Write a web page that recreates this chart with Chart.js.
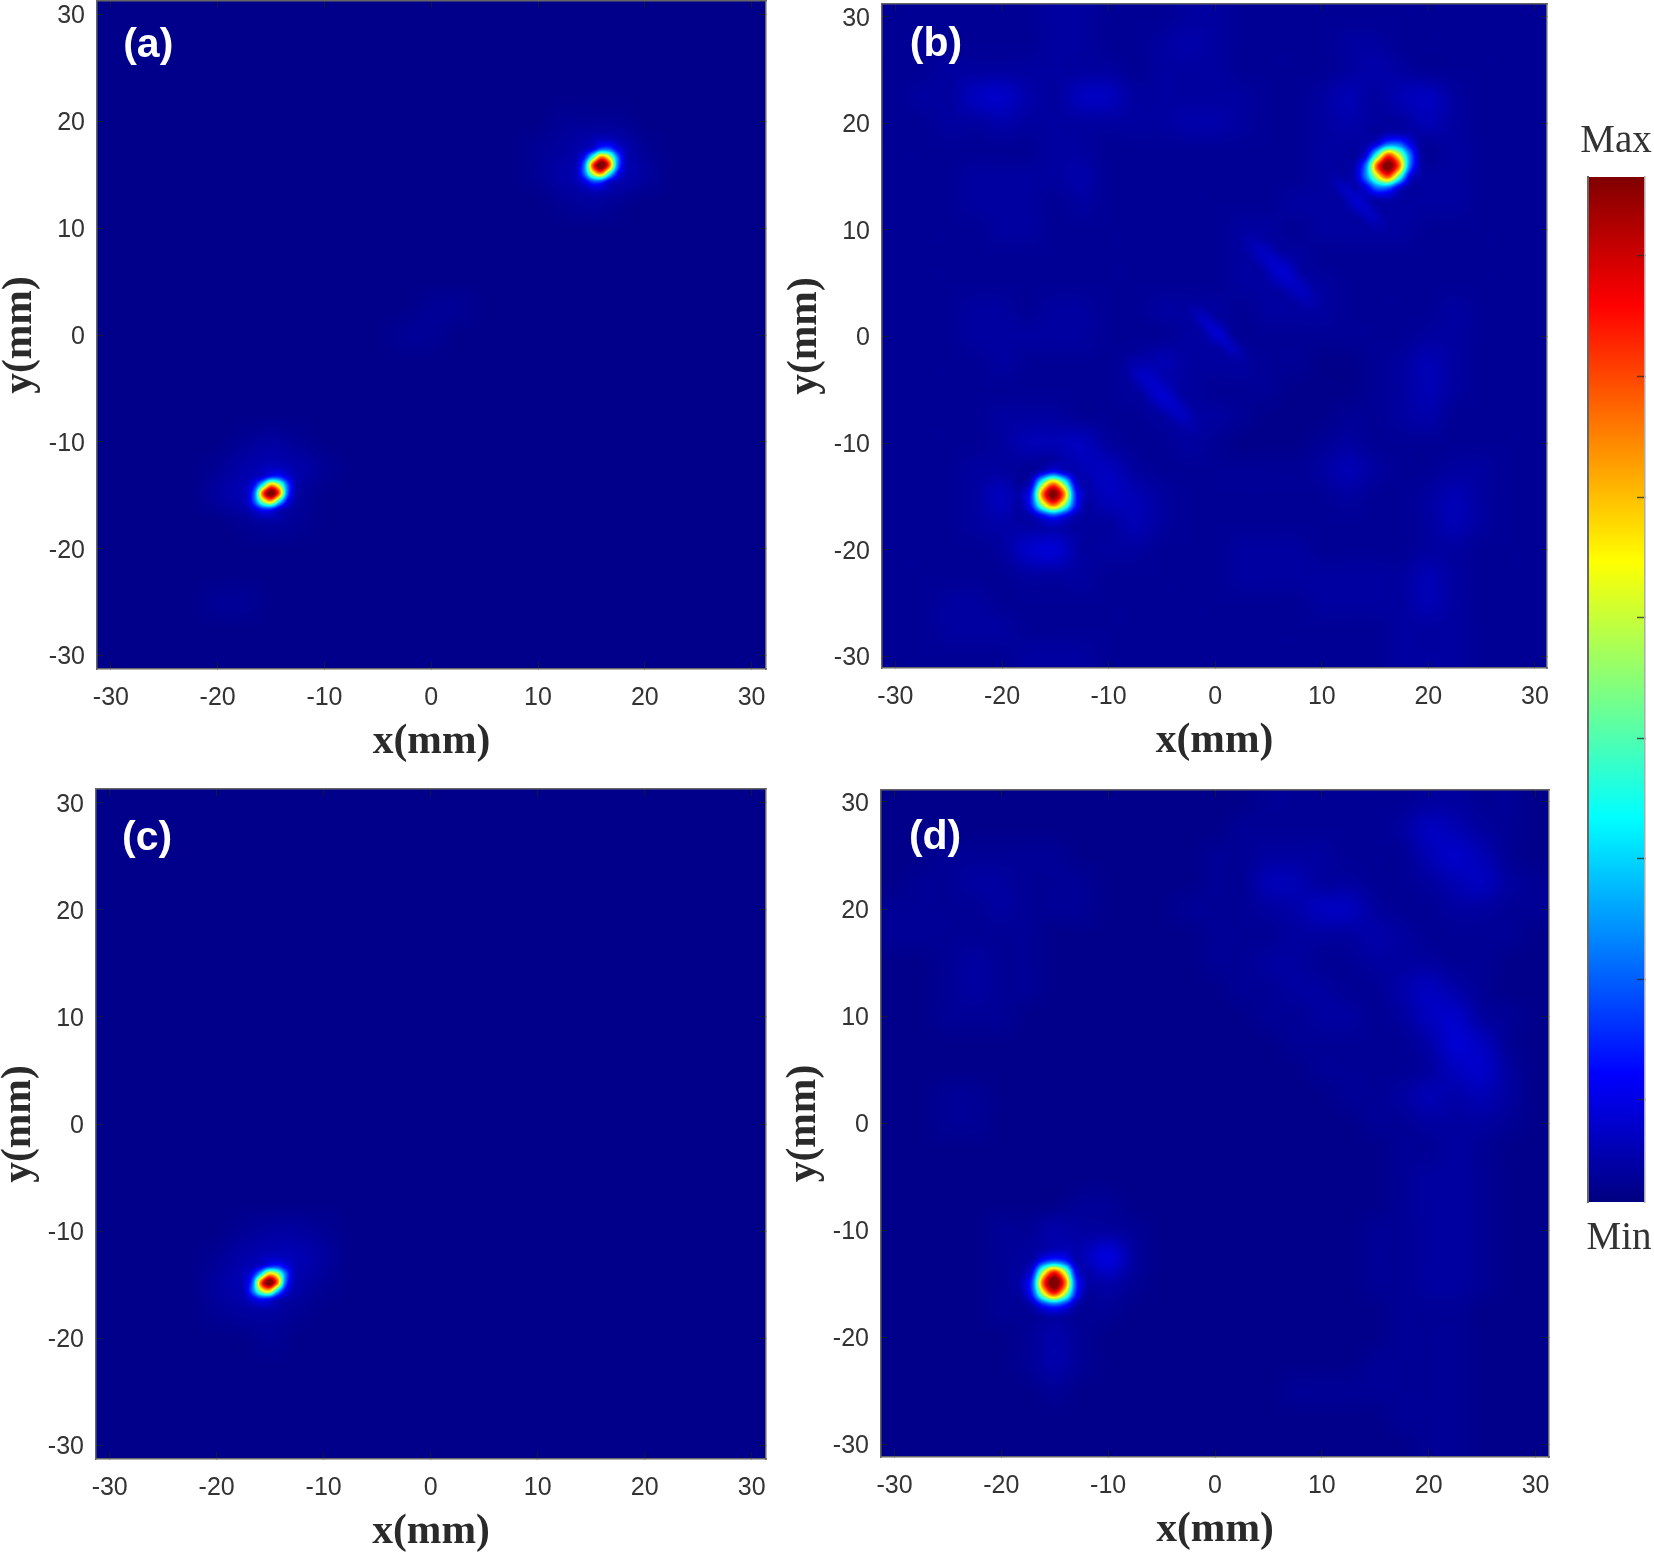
<!DOCTYPE html>
<html>
<head>
<meta charset="utf-8">
<title>Focal spots</title>
<script src="https://cdn.jsdelivr.net/npm/chart.js@4"></script>
<style>
  html, body { margin: 0; padding: 0; background: #fff; }
  body { position: relative; width: 1654px; height: 1553px; overflow: hidden; }
  canvas { position: absolute; display: block; }
</style>
</head>
<body>
<script>
// -----------------------
// Data (values in % of max)
// -----------------------
const tickValues = [-30, -20, -10, 0, 10, 20, 30];
const colorbarTicks = [0.0997, 0.2173, 0.335, 0.4525, 0.57, 0.6877, 0.8051, 0.9232];

const jetStops = [[0, '#000080'], [0.125, '#0000ff'], [0.375, '#00ffff'], [0.625, '#ffff00'], [0.875, '#ff0000'], [1, '#800000']];

// background fields: rows y = 30 .. -30, columns x = -30 .. 30, every 2.5 mm
const fieldA = [
  [1,1,1,1,1,1,1,1,1,1,1,1,1,1,1,1,1,1,1,1,1,1,1,1,1],
  [1,1,1,1,1,1,1,1,1,1,1,1,1,1,1,1,1,1,1,1,1,1,1,1,1],
  [1,1,1,1,1,1,1,1,1,1,1,1,1,1,1,1,1,1,1,1,1,1,1,1,1],
  [1,1,1,1,1,1,1,1,1,1,1,1,1,1,1,1,1,1,1,1,1,1,1,1,1],
  [1,1,1,1,1,1,1,1,1,1,1,1,1,1,1,1,1,2,2,2,1,1,1,1,1],
  [1,1,1,1,1,1,1,1,1,1,1,1,1,1,1,1,2,3,5,5,2,1,1,1,1],
  [1,1,1,1,1,1,1,1,1,1,1,1,1,1,1,1,2,4,5,5,3,1,1,1,1],
  [1,1,1,1,1,1,1,1,1,1,1,1,1,1,1,1,1,2,3,2,1,1,1,1,1],
  [1,1,1,1,1,1,1,1,1,1,1,1,1,1,1,1,1,1,1,1,1,1,1,1,1],
  [1,1,1,1,1,1,1,1,1,1,1,1,1,1,1,1,1,1,1,1,1,1,1,1,1],
  [1,1,1,1,1,1,1,1,1,1,1,1,1,1,1,1,1,1,1,1,1,1,1,1,1],
  [1,1,1,1,1,1,1,1,1,1,1,1,2,2,1,1,1,1,1,1,1,1,1,1,1],
  [1,1,1,1,1,1,1,1,1,1,1,2,2,1,1,1,1,1,1,1,1,1,1,1,1],
  [1,1,1,1,1,1,1,1,1,1,1,1,1,1,1,1,1,1,1,1,1,1,1,1,1],
  [1,1,1,1,1,1,1,1,1,1,1,1,1,1,1,1,1,1,1,1,1,1,1,1,1],
  [1,1,1,1,1,1,1,1,1,1,1,1,1,1,1,1,1,1,1,1,1,1,1,1,1],
  [1,1,1,1,1,2,3,2,1,1,1,1,1,1,1,1,1,1,1,1,1,1,1,1,1],
  [1,1,1,1,2,4,5,4,2,1,1,1,1,1,1,1,1,1,1,1,1,1,1,1,1],
  [1,1,1,1,3,5,5,3,1,1,1,1,1,1,1,1,1,1,1,1,1,1,1,1,1],
  [1,1,1,1,1,2,3,2,1,1,1,1,1,1,1,1,1,1,1,1,1,1,1,1,1],
  [1,1,1,1,1,1,1,1,1,1,1,1,1,1,1,1,1,1,1,1,1,1,1,1,1],
  [1,1,1,1,1,1,1,1,1,1,1,1,1,1,1,1,1,1,1,1,1,1,1,1,1],
  [1,1,1,1,2,2,1,1,1,1,1,1,1,1,1,1,1,1,1,1,1,1,1,1,1],
  [1,1,1,1,1,1,1,1,1,1,1,1,1,1,1,1,1,1,1,1,1,1,1,1,1],
  [1,1,1,1,1,1,1,1,1,1,1,1,1,1,1,1,1,1,1,1,1,1,1,1,1]
];
const fieldB = [
  [2,2,2,2,2,2,3,3,2,2,2,3,3,2,2,2,2,2,2,2,2,2,2,2,2],
  [2,2,2,2,2,2,3,3,2,2,3,4,3,2,2,2,2,3,3,2,2,2,2,2,2],
  [2,2,3,3,3,3,3,3,3,2,3,3,3,2,2,2,2,3,4,3,2,2,2,2,2],
  [2,3,3,6,7,4,3,6,6,3,3,3,3,3,2,2,3,5,3,5,6,3,2,2,2],
  [2,2,3,3,4,3,3,3,3,3,3,4,4,3,2,2,3,4,3,3,5,3,2,2,2],
  [2,2,2,2,2,2,3,3,2,2,2,2,2,2,2,2,3,3,3,2,2,3,2,2,2],
  [2,2,2,3,3,3,3,4,2,2,2,2,2,2,2,2,3,3,2,2,3,3,2,2,2],
  [2,2,2,3,3,3,2,3,2,2,2,2,2,2,2,3,3,3,3,3,3,3,2,2,2],
  [2,2,2,2,3,3,2,2,2,2,2,2,2,3,3,2,3,3,3,3,2,2,2,2,2],
  [2,2,2,2,2,2,2,2,2,2,2,2,2,3,3,3,2,2,2,2,2,2,2,2,2],
  [2,2,2,2,2,2,2,2,2,2,2,2,2,3,3,3,3,2,2,2,2,2,2,2,2],
  [2,2,2,3,3,2,3,3,2,2,3,3,3,2,3,3,3,2,2,2,2,3,2,2,2],
  [2,2,2,3,3,3,3,3,2,2,2,3,3,2,2,2,2,2,2,2,3,3,2,2,2],
  [2,2,2,2,3,2,2,2,2,3,5,3,3,3,2,2,1,1,2,3,5,3,2,2,2],
  [2,2,2,2,2,2,2,2,2,3,3,3,2,2,2,1,1,1,2,3,5,3,2,2,2],
  [2,2,2,2,3,3,3,2,2,2,3,3,3,2,1,1,1,2,2,3,4,2,2,2,2],
  [2,2,2,2,3,5,5,6,3,2,2,3,2,1,1,1,2,3,2,2,2,2,2,2,2],
  [2,2,2,3,3,2,2,5,6,3,2,2,2,2,2,2,3,5,3,2,2,3,3,2,2],
  [2,2,2,3,6,2,2,3,6,5,3,2,2,2,2,2,2,3,2,2,3,5,3,2,2],
  [2,2,2,3,4,3,3,3,3,5,3,2,2,2,2,2,2,2,2,2,3,5,3,2,2],
  [2,2,2,2,3,7,8,3,3,3,2,2,2,3,3,3,2,2,2,2,3,3,2,2,2],
  [2,2,2,2,2,3,3,3,2,2,2,2,2,3,3,3,3,3,3,3,5,3,2,2,2],
  [2,2,3,3,2,2,2,2,2,2,2,2,2,2,2,2,3,3,3,3,5,3,2,2,2],
  [2,2,3,3,3,2,2,2,2,2,2,2,2,2,2,2,2,2,2,3,3,3,2,2,2],
  [2,2,2,2,2,3,3,3,2,2,2,2,2,2,2,2,2,2,2,3,3,3,2,2,2]
];
const fieldC = [
  [1,1,1,1,1,1,1,1,1,1,1,1,1,1,1,1,1,1,1,1,1,1,1,1,1],
  [1,1,1,1,1,1,1,1,1,1,1,1,1,1,1,1,1,1,1,1,1,1,1,1,1],
  [1,1,1,1,1,1,1,1,1,1,1,1,1,1,1,1,1,1,1,1,1,1,1,1,1],
  [1,1,1,1,1,1,1,1,1,1,1,1,1,1,1,1,1,1,1,1,1,1,1,1,1],
  [1,1,1,1,1,1,1,1,1,1,1,1,1,1,1,1,1,1,1,1,1,1,1,1,1],
  [1,1,1,1,1,1,1,1,1,1,1,1,1,1,1,1,1,1,1,1,1,1,1,1,1],
  [1,1,1,1,1,1,1,1,1,1,1,1,1,1,1,1,1,1,1,1,1,1,1,1,1],
  [1,1,1,1,1,1,1,1,1,1,1,1,1,1,1,1,1,1,1,1,1,1,1,1,1],
  [1,1,1,1,1,1,1,1,1,1,1,1,1,1,1,1,1,1,1,1,1,1,1,1,1],
  [1,1,1,1,1,1,1,1,1,1,1,1,1,1,1,1,1,1,1,1,1,1,1,1,1],
  [1,1,1,1,1,1,1,1,1,1,1,1,1,1,1,1,1,1,1,1,1,1,1,1,1],
  [1,1,1,1,1,1,1,1,1,1,1,1,1,1,1,1,1,1,1,1,1,1,1,1,1],
  [1,1,1,1,1,1,1,1,1,1,1,1,1,1,1,1,1,1,1,1,1,1,1,1,1],
  [1,1,1,1,1,1,1,1,1,1,1,1,1,1,1,1,1,1,1,1,1,1,1,1,1],
  [1,1,1,1,1,1,1,1,1,1,1,1,1,1,1,1,1,1,1,1,1,1,1,1,1],
  [1,1,1,1,1,1,1,1,1,1,1,1,1,1,1,1,1,1,1,1,1,1,1,1,1],
  [1,1,1,1,1,2,3,3,2,1,1,1,1,1,1,1,1,1,1,1,1,1,1,1,1],
  [1,1,1,1,2,4,5,5,3,1,1,1,1,1,1,1,1,1,1,1,1,1,1,1,1],
  [1,1,1,1,3,5,5,4,2,1,1,1,1,1,1,1,1,1,1,1,1,1,1,1,1],
  [1,1,1,1,2,3,3,2,1,1,1,1,1,1,1,1,1,1,1,1,1,1,1,1,1],
  [1,1,1,1,1,1,2,1,1,1,1,1,1,1,1,1,1,1,1,1,1,1,1,1,1],
  [1,1,1,1,1,1,1,1,1,1,1,1,1,1,1,1,1,1,1,1,1,1,1,1,1],
  [1,1,1,1,1,1,1,1,1,1,1,1,1,1,1,1,1,1,1,1,1,1,1,1,1],
  [1,1,1,1,1,1,1,1,1,1,1,1,1,1,1,1,1,1,1,1,1,1,1,1,1],
  [1,1,1,1,1,1,1,1,1,1,1,1,1,1,1,1,1,1,1,1,1,1,1,1,1]
];
const fieldD = [
  [1,1,1,1,1,1,1,1,1,1,1,1,1,1,2,2,2,2,2,2,3,3,2,2,1],
  [1,1,1,1,1,1,1,1,1,1,1,1,1,2,2,2,2,2,2,3,6,5,3,2,1],
  [1,1,2,2,2,2,2,1,1,1,1,1,2,2,3,3,3,2,2,2,5,7,5,2,1],
  [1,2,2,3,3,2,2,2,1,1,1,1,2,2,5,5,3,3,2,2,3,5,6,3,2],
  [2,2,2,2,3,2,2,2,1,1,1,2,2,2,3,4,6,6,3,2,2,3,3,2,2],
  [2,2,2,2,2,2,1,1,1,1,1,1,2,2,2,3,3,3,4,3,2,2,2,2,1],
  [1,1,2,3,2,2,1,1,1,1,1,1,2,2,3,3,2,2,3,3,3,2,2,1,1],
  [1,1,2,3,2,2,1,1,1,1,1,1,1,2,2,3,3,2,2,4,6,4,2,1,1],
  [1,1,2,2,2,1,1,1,1,1,1,1,1,1,2,2,3,3,2,3,6,7,3,2,1],
  [1,1,1,1,1,1,1,1,1,1,1,1,1,1,1,2,2,2,2,2,4,8,6,2,1],
  [1,1,1,1,1,1,1,1,1,1,1,1,1,1,1,1,2,2,2,2,3,6,7,3,1],
  [1,1,2,2,1,1,1,1,1,1,1,1,1,1,1,1,1,2,2,3,5,4,5,3,1],
  [1,1,2,2,1,1,1,1,1,1,1,1,1,1,1,1,1,1,2,2,3,3,3,2,1],
  [1,1,1,1,1,1,1,1,1,1,1,1,1,1,1,1,1,1,1,2,2,3,2,1,1],
  [1,1,1,1,1,1,1,1,1,1,1,1,1,1,1,1,1,1,1,2,3,3,2,1,1],
  [1,1,1,1,1,1,1,2,2,1,1,1,1,1,1,1,1,1,1,2,3,3,2,1,1],
  [1,1,1,1,2,2,4,3,3,2,1,1,1,1,1,1,1,1,2,2,3,3,2,1,1],
  [1,1,1,1,2,3,4,5,9,3,1,1,1,1,1,1,1,1,2,2,3,3,2,1,1],
  [1,1,1,1,2,4,4,3,4,2,1,1,1,1,1,1,1,1,2,2,3,3,2,1,1],
  [1,1,1,1,2,2,3,2,2,1,1,1,1,1,1,1,1,1,1,2,2,2,1,1,1],
  [1,1,1,1,1,2,4,2,1,1,1,1,1,1,1,1,1,1,1,2,2,2,1,1,1],
  [1,1,1,1,1,2,4,2,1,1,1,1,1,1,1,1,1,1,2,2,2,2,1,1,1],
  [1,1,1,1,1,1,2,1,1,1,1,1,1,1,1,2,2,2,2,2,2,2,1,1,1],
  [1,1,1,1,1,1,1,1,1,1,1,1,1,1,1,1,1,1,1,2,2,2,1,1,1],
  [1,1,1,1,1,1,1,1,1,1,1,1,1,1,1,1,1,1,1,1,2,2,1,1,1]
];

// focal spots: 9x9 samples, top row first, centred on the peak
const spotALow = [
  [0,0,0,0,0,0,0,0,0],
  [0,0,0,1,2,2,1,0,0],
  [0,0,1,4,12,12,5,1,0],
  [0,1,9,35,66,50,18,2,0],
  [0,2,20,75,100,75,20,2,0],
  [0,2,18,50,66,35,9,1,0],
  [0,1,5,12,12,4,1,0,0],
  [0,0,1,2,2,1,0,0,0],
  [0,0,0,0,0,0,0,0,0]
];
const spotAHigh = [
  [0,0,0,0,0,0,0,0,0],
  [0,0,0,1,3,3,1,0,0],
  [0,0,1,5,16,16,6,1,0],
  [0,1,10,38,70,54,20,2,0],
  [0,2,22,76,100,76,22,2,0],
  [0,2,20,54,70,38,10,1,0],
  [0,1,6,16,16,5,1,0,0],
  [0,0,1,3,3,1,0,0,0],
  [0,0,0,0,0,0,0,0,0]
];
const spotBLow = [
  [0,0,0,0,0,0,0,0,0],
  [0,0,0,0,1,1,0,0,0],
  [0,0,1,7,14,7,1,0,0],
  [0,0,8,46,72,46,8,0,0],
  [0,2,17,74,100,74,17,2,0],
  [0,1,15,52,76,52,15,1,0],
  [0,0,3,11,18,11,3,0,0],
  [0,0,0,1,2,1,0,0,0],
  [0,0,0,0,0,0,0,0,0]
];
const spotBHigh = [
  [0,0,0,0,0,0,0,0,0],
  [0,0,0,0,3,3,2,0,0],
  [0,0,1,8,22,22,10,1,0],
  [0,0,8,42,78,58,24,3,0],
  [0,3,24,78,100,78,24,3,0],
  [0,4,24,56,78,46,9,1,0],
  [0,1,8,22,22,8,1,0,0],
  [0,0,1,3,3,1,0,0,0],
  [0,0,0,0,0,0,0,0,0]
];
const spotCLow = [
  [0,0,0,0,0,0,0,0,0],
  [0,0,0,1,2,2,1,0,0],
  [0,0,1,4,11,12,6,1,0],
  [0,1,8,32,64,52,20,2,0],
  [0,2,19,74,100,74,19,2,0],
  [0,2,20,52,64,32,8,1,0],
  [0,1,6,12,11,4,1,0,0],
  [0,0,1,2,2,1,0,0,0],
  [0,0,0,0,0,0,0,0,0]
];
const spotDLow = [
  [0,0,0,0,0,0,0,0,0],
  [0,0,0,1,2,2,0,0,0],
  [0,0,1,12,18,13,1,0,0],
  [0,0,9,52,80,54,9,0,0],
  [0,2,17,76,100,76,17,2,0],
  [0,1,14,54,80,54,14,1,0],
  [0,0,3,14,20,14,3,0,0],
  [0,0,0,1,2,1,0,0,0],
  [0,0,0,0,0,0,0,0,0]
];
// thin diagonal streak seen in panel (b), added on top of the field
const streakB = [
  [0,0,0,0,0,0,0,0,0],
  [0,1,1,0,0,0,0,0,0],
  [0,1,3,2,0,0,0,0,0],
  [0,0,2,4,3,1,0,0,0],
  [0,0,0,3,5,3,0,0,0],
  [0,0,0,1,3,4,2,0,0],
  [0,0,0,0,0,2,3,1,0],
  [0,0,0,0,0,0,1,1,0],
  [0,0,0,0,0,0,0,0,0]
];

const panels = [
  { label: '(a)', labelAt: [-26.5, 27.1], field: fieldA,
    spots: [{ rows: spotALow, x: -15, y: -14.8, step: 0.75 }, { rows: spotAHigh, x: 15.9, y: 15.9, step: 0.75 }],
    box: { left: 97, right: 766, top: 1, bottom: 669 }, xRange: [-31.3, 31.35], yRange: [-31.27, 31.27] },
  { label: '(b)', labelAt: [-26.2, 27.4], field: fieldB,
    spots: [
      { rows: spotBLow, x: -15.2, y: -14.77, step: 1 }, { rows: spotBHigh, x: 16.2, y: 16, step: 1 },
      { rows: streakB, x: 6.2, y: 6.1, step: 1 }, { rows: streakB, x: 0.2, y: 0.3, step: 0.75 },
      { rows: streakB, x: -5, y: -5.5, step: 1 }, { rows: streakB, x: 13.4, y: 12.6, step: 0.75 }
    ],
    box: { left: 882, right: 1547, top: 4, bottom: 668 }, xRange: [-31.26, 31.13], yRange: [-31.1, 31.19] },
  { label: '(c)', labelAt: [-26.5, 26.7], field: fieldC,
    spots: [{ rows: spotCLow, x: -15.1, y: -14.8, step: 0.75 }],
    box: { left: 96, right: 766, top: 789, bottom: 1459 }, xRange: [-31.28, 31.34], yRange: [-31.3, 31.3] },
  { label: '(d)', labelAt: [-26.2, 26.7], field: fieldD,
    spots: [{ rows: spotDLow, x: -15.07, y: -14.93, step: 1 }],
    box: { left: 881, right: 1549, top: 790, bottom: 1457 }, xRange: [-31.26, 31.26], yRange: [-31.2, 31.12] }
];

// -----------------------
// Colour map
// -----------------------
function buildLut() {
  const c = document.createElement('canvas');
  c.width = 1024; c.height = 1;
  const g = c.getContext('2d');
  const grad = g.createLinearGradient(0, 0, 1024, 0);
  jetStops.forEach(s => grad.addColorStop(s[0], s[1]));
  g.fillStyle = grad;
  g.fillRect(0, 0, 1024, 1);
  return g.getImageData(0, 0, 1024, 1).data;
}
const lut = buildLut();

// -----------------------
// Sampling the typed grids for display (like MATLAB's shading interp)
// -----------------------
function weights(t) {
  return [
    0.5 * (-t + 2 * t * t - t * t * t),
    0.5 * (2 - 5 * t * t + 3 * t * t * t),
    0.5 * (t + 4 * t * t - 3 * t * t * t),
    0.5 * (-t * t + t * t * t)
  ];
}

function sampleGrid(rows, u, v, clampEdges) {
  const n = rows.length, m = rows[0].length;
  const i0 = Math.floor(u), j0 = Math.floor(v);
  const wu = weights(u - i0), wv = weights(v - j0);
  let sum = 0;
  for (let b = 0; b < 4; b++) {
    let j = j0 + b - 1;
    if (j < 0 || j >= n) { if (!clampEdges) continue; j = Math.max(0, Math.min(n - 1, j)); }
    const row = rows[j];
    for (let a = 0; a < 4; a++) {
      let i = i0 + a - 1;
      if (i < 0 || i >= m) { if (!clampEdges) continue; i = Math.max(0, Math.min(m - 1, i)); }
      sum += wu[a] * wv[b] * row[i];
    }
  }
  return sum;
}

function cellsFromRows(rows, x0, y0, step) {
  const cells = [];
  rows.forEach((row, j) => row.forEach((v, i) => cells.push({ x: x0 + i * step, y: y0 - j * step, v })));
  return cells;
}

// -----------------------
// Heat layer + panel label
// -----------------------
const heatLayer = {
  id: 'heatLayer',
  beforeDatasetsDraw(chart) {
    const { ctx, chartArea: area, scales: { x, y } } = chart;
    const grids = chart.data.datasets.map(d => d.grid);
    const w = Math.round(area.right - area.left), h = Math.round(area.bottom - area.top);
    const off = document.createElement('canvas');
    off.width = w; off.height = h;
    const g = off.getContext('2d');
    const img = g.createImageData(w, h);
    for (let py = 0; py < h; py++) {
      const yVal = y.getValueForPixel(area.top + py + 0.5);
      for (let px = 0; px < w; px++) {
        const xVal = x.getValueForPixel(area.left + px + 0.5);
        let s = 0;
        grids.forEach(k => {
          const u = (xVal - k.x0) / k.step, v = (k.y0 - yVal) / k.step;
          if (k.clamp) s += sampleGrid(k.rows, u, v, true);
          else if (u > -1 && v > -1 && u < k.rows[0].length && v < k.rows.length) s += sampleGrid(k.rows, u, v, false);
        });
        const idx = Math.max(0, Math.min(1023, Math.round(s / 100 * 1023))) * 4;
        const o = (py * w + px) * 4;
        img.data[o] = lut[idx];
        img.data[o + 1] = lut[idx + 1];
        img.data[o + 2] = lut[idx + 2];
        img.data[o + 3] = 255;
      }
    }
    g.putImageData(img, 0, 0);
    ctx.drawImage(off, area.left, area.top, area.right - area.left, area.bottom - area.top);
  }
};

function panelLabel(p) {
  return {
    id: 'panelLabel',
    afterDraw(chart) {
      const { ctx, scales: { x, y } } = chart;
      ctx.save();
      ctx.fillStyle = '#fff';
      ctx.font = 'bold 41px "Liberation Sans", Arial, sans-serif';
      ctx.textAlign = 'center';
      ctx.textBaseline = 'middle';
      ctx.fillText(p.label, x.getPixelForValue(p.labelAt[0]), y.getPixelForValue(p.labelAt[1]));
      ctx.restore();
    }
  };
}

// -----------------------
// Panels
// -----------------------
const tickColor = 'rgba(30,30,30,0.7)';
const borderColor = '#666';

function axisTicks(scale) {
  scale.ticks = tickValues.map(v => ({ value: v }));
}

// fixed axis size, and no extra room for the outer labels
function fixAxis(s, axis, size) {
  if (axis === 'x') s.height = size; else s.width = size;
  s.paddingLeft = s.paddingRight = s.paddingTop = s.paddingBottom = 0;
}

function frameAxis(axis, position, range) {
  return {
    type: 'linear', axis, position, min: range[0], max: range[1],
    afterBuildTicks: axisTicks,
    afterFit(s) { fixAxis(s, axis, 0); },
    border: { display: true, color: borderColor, width: 1.5, z: 1 },
    grid: { z: 1, drawOnChartArea: false, drawTicks: true, tickLength: -7, tickColor, tickWidth: 1 },
    ticks: { display: false, autoSkip: false },
    title: { display: false }
  };
}

function mainAxis(axis, position, range, size, title) {
  return {
    type: 'linear', axis, position, min: range[0], max: range[1],
    afterBuildTicks: axisTicks,
    afterFit(s) { fixAxis(s, axis, size); },
    border: { display: true, color: borderColor, width: 1.5, z: 1 },
    grid: { z: 1, drawOnChartArea: false, drawTicks: true, tickLength: -7, tickColor, tickWidth: 1 },
    ticks: {
      autoSkip: false, maxRotation: 0, minRotation: 0, color: '#333',
      padding: axis === 'x' ? 21 : 19,
      labelOffset: axis === 'x' ? 0 : 2,
      font: { family: '"Liberation Sans", Arial, sans-serif', size: 25 },
      callback: v => String(v)
    },
    title: {
      display: true, text: title, color: '#2a2a2a',
      padding: { top: 0, bottom: 0 },
      font: { family: '"Liberation Serif", "Times New Roman", serif', size: 41.5, weight: 'bold', lineHeight: 1 }
    }
  };
}

function makePanel(p) {
  const c = document.createElement('canvas');
  const left = p.box.left - 97, top = p.box.top - 1;
  const width = p.box.right - left + 6, height = p.box.bottom - top + 94;
  c.width = width; c.height = height;
  c.style.left = left + 'px';
  c.style.top = top + 'px';
  document.body.appendChild(c);

  const datasets = [{
    label: 'field', pointRadius: 0, showLine: false,
    data: cellsFromRows(p.field, -30, 30, 2.5),
    grid: { rows: p.field, x0: -30, y0: 30, step: 2.5, clamp: true }
  }];
  p.spots.forEach(s => {
    const half = (s.rows.length - 1) / 2 * s.step;
    datasets.push({
      label: 'spot', pointRadius: 0, showLine: false,
      data: cellsFromRows(s.rows, s.x - half, s.y + half, s.step),
      grid: { rows: s.rows, x0: s.x - half, y0: s.y + half, step: s.step, clamp: false }
    });
  });

  new Chart(c, {
    type: 'scatter',
    data: { datasets },
    options: {
      responsive: false, animation: false, devicePixelRatio: 1,
      layout: { padding: { left: 0, top: 1, right: 6, bottom: 0 } },
      plugins: { legend: { display: false }, tooltip: { enabled: false } },
      scales: {
        x: mainAxis('x', 'bottom', p.xRange, 94, 'x(mm)'),
        y: mainAxis('y', 'left', p.yRange, 97, 'y(mm)'),
        x2: frameAxis('x', 'top', p.xRange),
        y2: frameAxis('y', 'right', p.yRange)
      }
    },
    plugins: [heatLayer, panelLabel(p)]
  });
}
panels.forEach(makePanel);

// -----------------------
// Colour bar
// -----------------------
function makeColorbar() {
  const c = document.createElement('canvas');
  c.width = 84; c.height = 1170;
  c.style.left = '1570px';
  c.style.top = '100px';
  document.body.appendChild(c);

  const endLabels = {
    id: 'endLabels',
    afterDraw(chart) {
      const { ctx, chartArea: area } = chart;
      ctx.save();
      ctx.fillStyle = '#333';
      ctx.font = '39px "Liberation Serif", "Times New Roman", serif';
      ctx.textAlign = 'center';
      ctx.textBaseline = 'middle';
      ctx.fillText('Max', 46, area.top - 35);
      ctx.fillText('Min', 49, area.bottom + 37);
      ctx.restore();
    }
  };

  new Chart(c, {
    type: 'bar',
    data: {
      labels: ['colour'],
      datasets: [{
        data: [[0, 1]], barPercentage: 1, categoryPercentage: 1, borderWidth: 0,
        backgroundColor(ctx) {
          const y = ctx.chart.scales.y;
          const from = y ? y.getPixelForValue(0) : NaN, to = y ? y.getPixelForValue(1) : NaN;
          if (!Number.isFinite(from) || !Number.isFinite(to)) return '#000080';
          const grad = ctx.chart.ctx.createLinearGradient(0, from, 0, to);
          jetStops.forEach(s => grad.addColorStop(s[0], s[1]));
          return grad;
        }
      }]
    },
    options: {
      responsive: false, animation: false, devicePixelRatio: 1,
      layout: { padding: { left: 18, top: 77, right: 9, bottom: 68 } },
      plugins: { legend: { display: false }, tooltip: { enabled: false } },
      scales: {
        x: { display: false },
        y: {
          type: 'linear', position: 'right', min: 0, max: 1,
          afterBuildTicks(s) { s.ticks = colorbarTicks.map(v => ({ value: v })); },
          afterFit(s) { s.width = 0; },
          border: { display: true, color: '#aaa', width: 1.5, z: 1 },
          grid: { z: 1, drawOnChartArea: false, drawTicks: true, tickLength: -8, tickColor: 'rgba(40,40,40,0.75)', tickWidth: 1.5 },
          ticks: { display: false, autoSkip: false }
        },
        y2: {
          type: 'linear', axis: 'y', position: 'left', min: 0, max: 1,
          afterFit(s) { s.width = 0; },
          border: { display: true, color: '#666', width: 2, z: 1 },
          grid: { display: false },
          ticks: { display: false }
        }
      }
    },
    plugins: [endLabels]
  });
}
makeColorbar();
</script>
</body>
</html>
